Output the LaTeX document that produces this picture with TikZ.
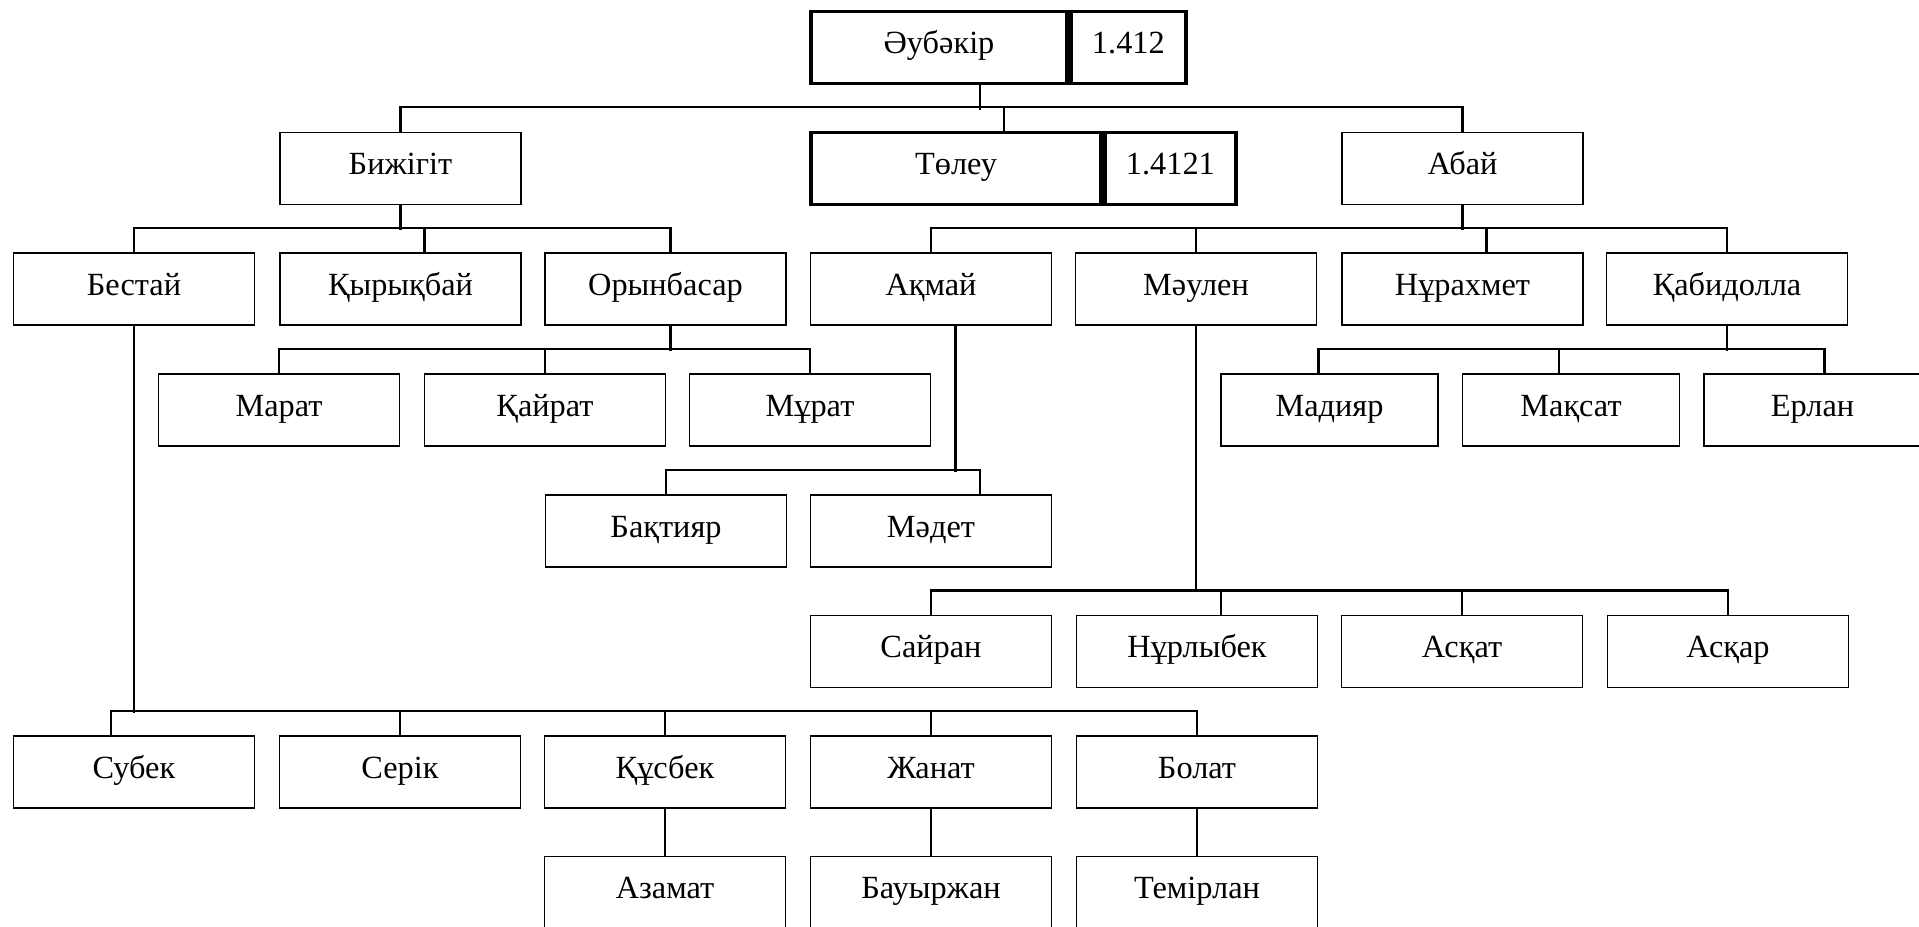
\documentclass[tikz,border=0pt]{standalone}
\usepackage{fontspec}
\setmainfont{Liberation Serif}
\usepackage{tikz}
\usetikzlibrary{positioning}

\begin{document}
\begin{tikzpicture}[line width=0.7pt,
  person/.style={draw,line width=0.55pt,minimum width=2.41cm,minimum height=0.72cm,inner sep=0pt,
    text height=6.2pt,text depth=2.7pt,font=\fontsize{9.2pt}{11pt}\selectfont},
  narrow/.style={person,minimum width=2.17cm},
  head/.style={person,line width=1.1pt}]
\useasboundingbox (0,0) rectangle (19.19,-9.26);
\node[head,minimum width=2.56cm] (aub) at (9.39,-0.475) {Әубәкір};
\node[head,minimum width=1.15cm,anchor=west] (aubn) at (aub.east) {1.412};
\node[person] (biz) at (4.005,-1.685) {Бижігіт};
\node[head,minimum width=2.90cm] (tol) at (9.56,-1.685) {Төлеу};
\node[head,minimum width=1.31cm,anchor=west] (toln) at (tol.east) {1.4121};
\node[person] (abai) at (14.625,-1.685) {Абай};
\node[person] (bes) at (1.34,-2.89) {Бестай};
\node[person] (kyr) at (4.005,-2.89) {Қырықбай};
\node[person] (orb) at (6.655,-2.89) {Орынбасар};
\node[person] (akm) at (9.31,-2.89) {Ақмай};
\node[person] (mau) at (11.96,-2.89) {Мәулен};
\node[person] (nur) at (14.625,-2.89) {Нұрахмет};
\node[person] (kab) at (17.27,-2.89) {Қабидолла};
\node[person] (mar) at (2.79,-4.10) {Марат};
\node[person] (kay) at (5.45,-4.10) {Қайрат};
\node[person] (mur) at (8.10,-4.10) {Мұрат};
\node[narrow] (madi) at (13.295,-4.10) {Мадияр};
\node[narrow] (mak) at (15.71,-4.10) {Мақсат};
\node[narrow] (erl) at (18.125,-4.10) {Ерлан};
\node[person] (bak) at (6.66,-5.31) {Бақтияр};
\node[person] (med) at (9.31,-5.31) {Мәдет};
\node[person] (say) at (9.31,-6.515) {Сайран};
\node[person] (nurl) at (11.97,-6.515) {Нұрлыбек};
\node[person] (askat) at (14.62,-6.515) {Асқат};
\node[person] (askar) at (17.28,-6.515) {Асқар};
\node[person] (sub) at (1.34,-7.72) {Субек};
\node[person] (ser) at (4.0,-7.72) {Серік};
\node[person] (kus) at (6.65,-7.72) {Құсбек};
\node[person] (zhan) at (9.31,-7.72) {Жанат};
\node[person] (bol) at (11.97,-7.72) {Болат};
\node[person] (aza) at (6.65,-8.925) {Азамат};
\node[person] (bau) at (9.31,-8.925) {Бауыржан};
\node[person] (tem) at (11.97,-8.925) {Темірлан};

\draw ([xshift=4.1mm]aub.south) -- ++(0,-0.245);
\draw (biz.north) -- ++(0,0.245) -| (abai.north);
\draw ([xshift=4.8mm]tol.north) -- ++(0,0.245);

\draw (biz.south) -- ++(0,-0.245);
\draw (bes.north) -- ++(0,0.24) -| ([xshift=0.5mm]orb.north);
\draw ([xshift=2.4mm]kyr.north) -- ++(0,0.24);

\draw (abai.south) -- ++(0,-0.245);
\draw (akm.north) -- ++(0,0.24) -| (kab.north);
\draw (mau.north) -- ++(0,0.24);
\draw ([xshift=2.4mm]nur.north) -- ++(0,0.24);

\draw ([xshift=0.5mm]orb.south) -- ++(0,-0.25);
\draw (mar.north) -- ++(0,0.24) -| (mur.north);
\draw (kay.north) -- ++(0,0.24);

\draw (kab.south) -- ++(0,-0.25);
\draw ([xshift=-1.1mm]madi.north) -- ++(0,0.24) -| ([xshift=1.2mm]erl.north);
\draw ([xshift=-1.2mm]mak.north) -- ++(0,0.24);

\draw ([xshift=2.45mm]akm.south) -- ++(0,-1.46);
\draw (bak.north) -- ++(0,0.24) -| ([xshift=4.9mm]med.north);

\draw (mau.south) -- ++(0,-2.665);
\draw (say.north) -- ++(0,0.24) -| (askar.north);
\draw ([xshift=2.4mm]nurl.north) -- ++(0,0.24);
\draw (askat.north) -- ++(0,0.24);

\draw (bes.south) -- ++(0,-3.87);
\draw ([xshift=-2.3mm]sub.north) -- ++(0,0.24) -| (bol.north);
\draw (ser.north) -- ++(0,0.24);
\draw (kus.north) -- ++(0,0.24);
\draw (zhan.north) -- ++(0,0.24);

\draw (kus.south) -- (aza.north);
\draw (zhan.south) -- (bau.north);
\draw (bol.south) -- (tem.north);
\end{tikzpicture}
\end{document}
